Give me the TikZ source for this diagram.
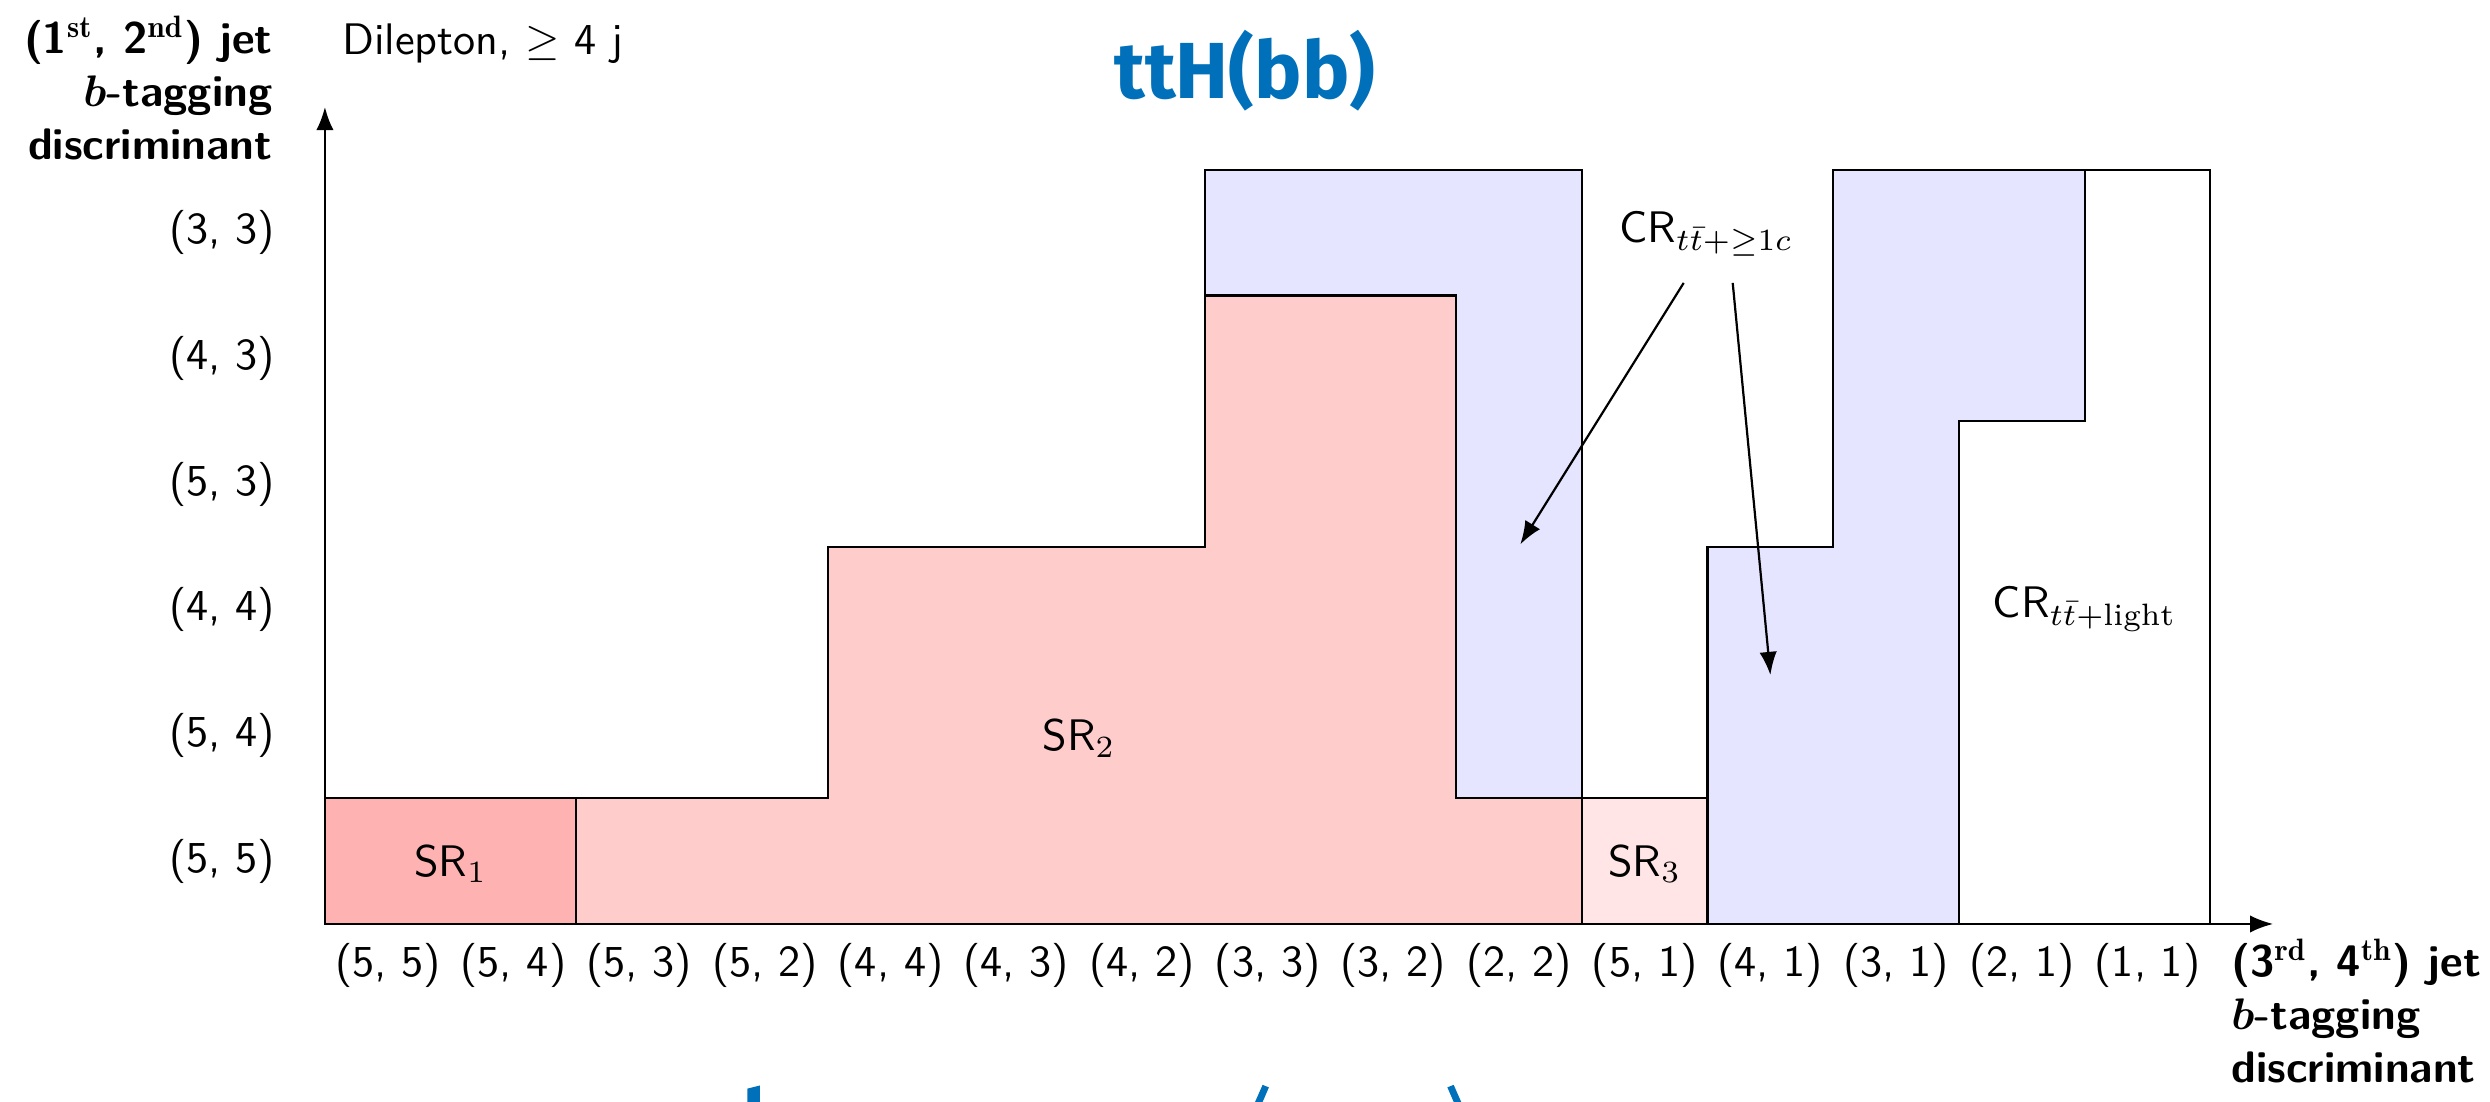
\documentclass[tikz,border=0pt]{standalone}
\usepackage{fontspec}
\newfontfamily\titlefont{Fira Sans}
\usetikzlibrary{arrows.meta}
\definecolor{ttblue}{RGB}{0,112,186}
\tikzset{
  region/.style={draw=black, line width=0.5pt},
  sra/.style={region, fill=red!30},
  srb/.style={region, fill=red!20},
  src/.style={region, fill=red!10},
  crb/.style={region, fill=blue!10},
  ticklab/.style={font=\sffamily, inner sep=0pt},
  reglab/.style={font=\sffamily, inner sep=0pt},
  axislab/.style={font=\sffamily\bfseries\boldmath, inner sep=0pt},
  axisline/.style={-{Latex}, line width=0.5pt},
  pointer/.style={-{Latex}, line width=0.5pt},
  sliver/.style={fill=ttblue, draw=none},
}
\begin{document}
\begin{tikzpicture}
\useasboundingbox (-2.585,-1.416) rectangle (17.225,7.351);
% regions
\filldraw[crb] (7,5) -- (7,6) -- (10,6) -- (10,1) -- (9,1) -- (9,5) -- cycle;
\filldraw[sra] (0,0) rectangle (2,1);
\filldraw[srb] (2,0) -- (10,0) -- (10,1) -- (9,1) -- (9,5) -- (7,5) -- (7,3) -- (4,3) -- (4,1) -- (2,1) -- cycle;
\filldraw[src] (10,0) rectangle (11,1);
\filldraw[crb] (11,0) -- (11,3) -- (12,3) -- (12,6) -- (14,6) -- (14,4) -- (13,4) -- (13,0) -- cycle;
\draw[region] (13,0) -- (13,4) -- (14,4) -- (14,6) -- (15,6) -- (15,0);
% axes
\coordinate (O) at (0,0);
\coordinate (xend) at (15.5,0);
\coordinate (yend) at (0,6.5);
\draw[axisline] (O) -- (xend);
\draw[axisline] (O) -- (yend);
% tick labels
\foreach \t [count=\i from 0] in {{(5, 5)},{(5, 4)},{(5, 3)},{(5, 2)},{(4, 4)},{(4, 3)},{(4, 2)},{(3, 3)},{(3, 2)},{(2, 2)},{(5, 1)},{(4, 1)},{(3, 1)},{(2, 1)},{(1, 1)}}
  \node[ticklab, anchor=base] (xt\i) at (\i+0.5,-0.42) {\t};
\foreach \t [count=\i from 0] in {{(5, 5)},{(5, 4)},{(4, 4)},{(5, 3)},{(4, 3)},{(3, 3)}}
  \node[ticklab, anchor=east] (yt\i) at (-0.39,\i+0.5) {\t};
% axis labels
\node[axislab, anchor=base east] (ylab) at (-0.41,6.08)
  {\begin{tabular}[b]{@{}r@{}}(1$^{\mathrm{st}}$, 2$^{\mathrm{nd}}$) jet\\ $b$-tagging\\ discriminant\end{tabular}};
\node[axislab, anchor=base west] (xlab) at (15.16,-0.42)
  {\begin{tabular}[t]{@{}l@{}}(3$^{\mathrm{rd}}$, 4$^{\mathrm{th}}$) jet\\ $b$-tagging\\ discriminant\end{tabular}};
\node[reglab, anchor=base west] (chan) at (0.13,6.92) {Dilepton, $\geq$ 4 j};
\node[font=\titlefont\bfseries\fontsize{18}{20}\selectfont, text=ttblue, anchor=base, inner sep=0pt] (title) at (7.32,6.57) {ttH(bb)};
% region labels
\node[reglab] (sr1) at (1,0.48) {SR$_1$};
\node[reglab] (sr2) at (6,1.48) {SR$_2$};
\node[reglab] (sr3) at (10.5,0.48) {SR$_3$};
\node[reglab, anchor=base] (crc) at (10.99,5.42) {CR$_{t\bar{t}+\geq 1c}$};
\node[reglab, anchor=base] (crl) at (14.0,2.44) {CR$_{t\bar{t}+\mathrm{light}}$};
% pointers
\coordinate (p1s) at (10.81,5.10);
\coordinate (p1e) at (9.51,3.02);
\coordinate (p2s) at (11.2,5.10);
\coordinate (p2e) at (11.5,1.98);
\draw[pointer] (p1s) -- (p1e);
\draw[pointer] (p2s) -- (p2e);
% cut-off fragments at the bottom edge
\fill[sliver] (3.36,-1.416) -- (3.36,-1.31) -- (3.46,-1.285) -- (3.46,-1.416) -- cycle;
\fill[sliver] (7.40,-1.416) -- (7.46,-1.28) -- (7.51,-1.30) -- (7.46,-1.416) -- cycle;
\fill[sliver] (8.93,-1.30) -- (8.98,-1.28) -- (9.04,-1.416) -- (8.98,-1.416) -- cycle;
\end{tikzpicture}
\end{document}
